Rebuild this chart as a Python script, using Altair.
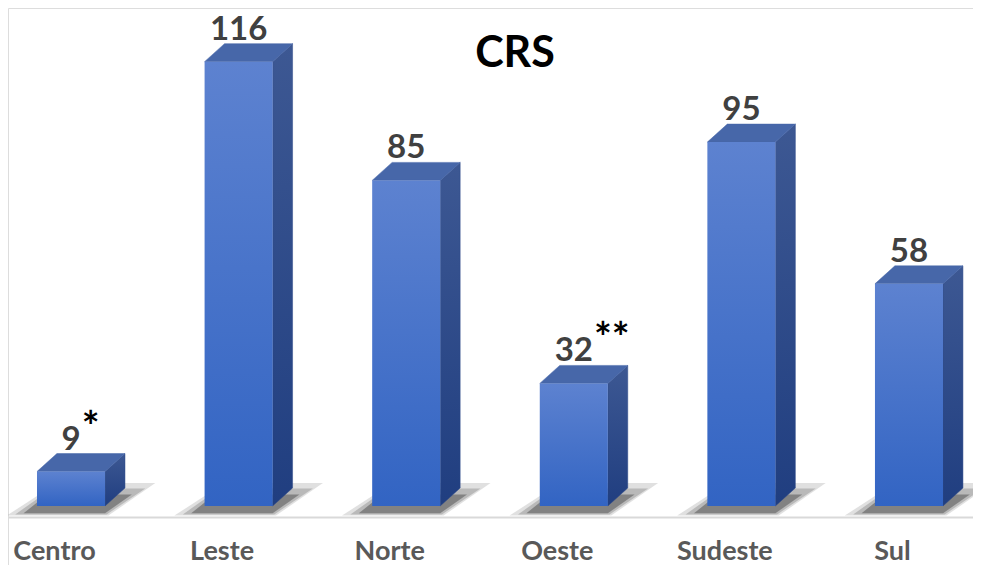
import altair as alt
import pandas as pd

# ---- data -------------------------------------------------------------
categories = ["Centro", "Leste", "Norte", "Oeste", "Sudeste", "Sul"]
values = [9, 116, 85, 32, 95, 58]
notes = ["*", "", "", "**", "", ""]
title_text = "CRS"

# ---- style / geometry constants ---------------------------------------
W, H = 965, 557
XD = [-0.376, 5.382]
YD = [-15.4, 130.0]
HW = 0.203      # half width of the front face (category units)
DX = 0.119      # depth, horizontal (category units)
DY = 4.7        # depth, vertical (value units)
FONT = "Lato"

idx = list(range(len(categories)))
bars = pd.DataFrame({"cat": categories, "i": idx, "v": values, "note": notes})
bars["x0"] = bars["i"] - HW
bars["x1"] = bars["i"] + HW
bars["vt"] = bars["v"] + DY
bars["nx"] = bars["i"] + bars["v"].astype(str).str.len() * 0.056 + 0.008

side_rows, top_rows, sh_outer, sh_mid, sh_inner = [], [], [], [], []
for c, i, v in zip(categories, idx, values):
    side_rows += [dict(cat=c, x=i + HW, y=v, y2=0),
                  dict(cat=c, x=i + HW + DX, y=v + DY, y2=DY)]
    top_rows += [dict(cat=c, y=v, x=i - HW, x2=i + HW),
                 dict(cat=c, y=v + DY, x=i - HW + DX, x2=i + HW + DX)]
    sh_outer += [dict(cat=c, y=-2.5, x=i - HW - 0.18, x2=i + HW + 0.02),
                 dict(cat=c, y=6.0, x=i - HW + 0.12, x2=i + HW + 0.30)]
    sh_mid += [dict(cat=c, y=-2.2, x=i - HW - 0.13, x2=i + HW + 0.01),
               dict(cat=c, y=4.6, x=i - HW + 0.09, x2=i + HW + 0.24)]
    sh_inner += [dict(cat=c, y=-1.9, x=i - HW - 0.08, x2=i + HW),
                 dict(cat=c, y=3.0, x=i - HW + 0.06, x2=i + HW + 0.16)]
side = pd.DataFrame(side_rows)
top = pd.DataFrame(top_rows)
shadow_o = pd.DataFrame(sh_outer)
shadow_m = pd.DataFrame(sh_mid)
shadow_i = pd.DataFrame(sh_inner)

xs = alt.Scale(domain=XD, nice=False, zero=False)
ys = alt.Scale(domain=YD, nice=False, zero=False)
yaxis = alt.Axis(values=[-3], grid=True, gridColor="#d9d9d9", gridWidth=2,
                 labels=False, ticks=False, domain=False, title=None)

label_expr = "[" + ",".join(f"'{c}'" for c in categories) + "][datum.value]"
xaxis = alt.Axis(values=idx, labelExpr=label_expr, grid=False, ticks=False,
                 domain=False, title=None, labelFont=FONT, labelFontSize=27,
                 labelFontWeight="bold", labelColor="#595959",
                 labelOffset=-17, labelFlush=False, labelOverlap=False,
                 labelBound=False, labelBaseline="alphabetic", labelPadding=-6)


def grad(c0, c1):
    return alt.Gradient(gradient="linear",
                        stops=[alt.GradientStop(color=c0, offset=0),
                               alt.GradientStop(color=c1, offset=1)],
                        x1=0, x2=0, y1=0, y2=1)


def shadow(df, color, op):
    return alt.Chart(df).mark_area(
        orient="horizontal", color=color, opacity=op).encode(
        y=alt.Y("y:Q", scale=ys, axis=yaxis),
        x=alt.X("x:Q", scale=xs, axis=xaxis), x2="x2:Q", detail="cat:N")


side_face = alt.Chart(side).mark_area(
    fill=grad("#3d5893", "#203e80"), stroke="#2c4888", strokeWidth=0.5).encode(
    x=alt.X("x:Q", scale=xs, axis=xaxis),
    y=alt.Y("y:Q", scale=ys, axis=yaxis), y2="y2:Q", detail="cat:N")

top_face = alt.Chart(top).mark_area(
    orient="horizontal", fill="#4767a9", stroke="#4767a9", strokeWidth=0.5).encode(
    y=alt.Y("y:Q", scale=ys, axis=yaxis),
    x=alt.X("x:Q", scale=xs, axis=xaxis), x2="x2:Q", detail="cat:N")

front = alt.Chart(bars).mark_rect(fill=grad("#5d82d0", "#3264c3")).encode(
    x=alt.X("x0:Q", scale=xs, axis=xaxis), x2="x1:Q",
    y=alt.Y("v:Q", scale=ys, axis=yaxis), y2=alt.datum(0))

value_labels = alt.Chart(bars).mark_text(
    font=FONT, fontSize=33, fontWeight="bold", color="#404040",
    baseline="alphabetic", dy=-4).encode(
    x=alt.X("i:Q", scale=xs, axis=xaxis),
    y=alt.Y("vt:Q", scale=ys, axis=yaxis), text="v:Q")

note_labels = alt.Chart(bars).mark_text(
    font=FONT, fontSize=42, fontWeight="bold", color="#000000",
    baseline="alphabetic", align="left", dy=-12).encode(
    x=alt.X("nx:Q", scale=xs, axis=xaxis),
    y=alt.Y("vt:Q", scale=ys, axis=yaxis), text="note:N")

title = alt.Chart(pd.DataFrame({"t": [title_text]})).mark_text(
    font=FONT, fontSize=43, fontWeight="bold", color="#000000",
    baseline="alphabetic", align="center").encode(
    x=alt.value(507), y=alt.value(59), text="t:N")

chart = alt.layer(
    shadow(shadow_o, "#a6a6a6", 0.35), shadow(shadow_m, "#7f7f7f", 0.4),
    shadow(shadow_i, "#404040", 0.45),
    side_face, top_face, front, value_labels, note_labels, title
).properties(
    width=W, height=H, padding=0, autosize=alt.AutoSizeParams(type="none")
).configure_view(stroke=None).configure(background="white")

chart.save("out.html", embed_options={"renderer": "svg", "actions": False})
